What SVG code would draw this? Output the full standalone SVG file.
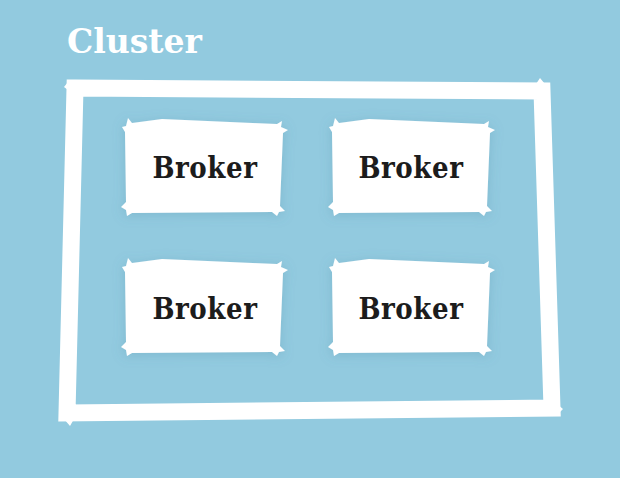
<svg xmlns="http://www.w3.org/2000/svg" xmlns:xlink="http://www.w3.org/1999/xlink" width="620" height="478" viewBox="0 0 620 478">
<defs>
<style>
.bg{fill:#92cadf}
.frame{fill:none;stroke:#fff;stroke-width:17;stroke-linejoin:miter}
.notch{fill:#fff}
.title{font-family:"DejaVu Serif","Liberation Serif",serif;font-weight:bold;font-size:33px;fill:#fff}
.lbl{font-family:"DejaVu Serif Condensed","DejaVu Serif","Liberation Serif",serif;font-weight:bold;font-size:29px;letter-spacing:0.6px;fill:#1c1c1c;text-anchor:middle}
.box{fill:#fff}
</style>
<filter id="sh" x="-20%" y="-20%" width="140%" height="140%">
<feDropShadow dx="0" dy="2" stdDeviation="6" flood-color="#4f8fa8" flood-opacity="0.3"/>
</filter>
<path id="card" d="M3,14 L0,9 L4,8 L6,0 L10,5 L40,1 L155,6 L160,3 L159,9 L166,12 L161,15 L158,88 L163,93 L157,94 L155,98 L150,94 L10,95 L5,98 L4,92 L-1,89 L4,84 Z"/>
</defs>
<rect class="bg" x="0" y="0" width="620" height="478"/>
<g id="cluster">
<text class="title" x="67" y="53">Cluster</text>
<path class="frame" d="M75,88 L542,91 L552,408 L67,413 Z"/>
<path class="notch" d="M68,82 L64,87 L68,90 Z M536,84 L540,78 L545,84 Z M557,404 L563,409 L558,414 Z M64,419 L70,426 L74,419 Z"/>
</g>
<g id="edges"/>
<g id="broker1">
<use href="#card" class="box" filter="url(#sh)" transform="translate(122,118)"/>
<text class="lbl" x="205" y="178">Broker</text>
</g>
<g id="broker2">
<use href="#card" class="box" filter="url(#sh)" transform="translate(329,118)"/>
<text class="lbl" x="411" y="178">Broker</text>
</g>
<g id="broker3">
<use href="#card" class="box" filter="url(#sh)" transform="translate(122,258)"/>
<text class="lbl" x="205" y="319">Broker</text>
</g>
<g id="broker4">
<use href="#card" class="box" filter="url(#sh)" transform="translate(329,258)"/>
<text class="lbl" x="411" y="319">Broker</text>
</g>
</svg>
